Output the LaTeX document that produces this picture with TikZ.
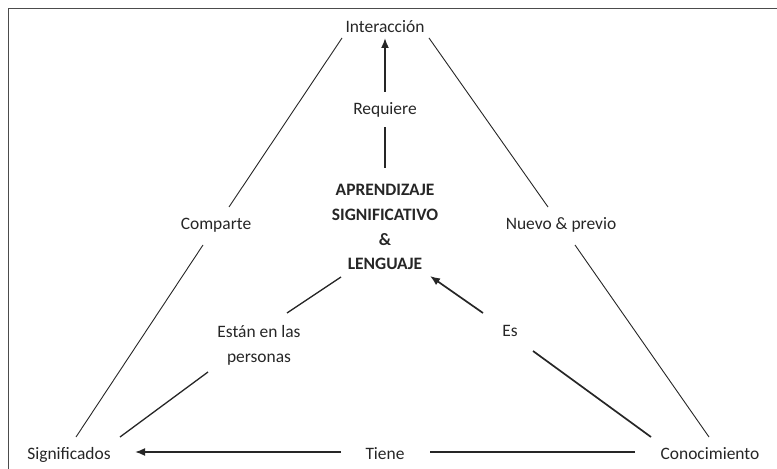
\documentclass[tikz,border=0pt]{standalone}
\usepackage{fontspec}
\setmainfont{Carlito}
\usetikzlibrary{arrows.meta,calc}
\begin{document}
\begin{tikzpicture}[x=1bp,y=-1bp,
  lbl/.style={inner sep=0pt,anchor=base,text=black!85,font=\fontsize{17.5}{25}\selectfont},
  thin/.style={line width=0.9bp,draw=black!85},
  mid/.style={line width=1.3bp,draw=black!85},
  thick/.style={line width=1.7bp,draw=black!85},
  arr/.style={-{Latex[length=10bp,width=8bp]}}]
\useasboundingbox (0,0) rectangle (777,469);
\draw[line width=1.6bp,draw=black!70] (8.5,469) -- (8.5,8.5) -- (777,8.5);

\node[lbl] (inter) at (385,33) {Interacción};
\node[lbl] (req) at (385,114.5) {Requiere};
\node[lbl] (comp) at (216,229.5) {Comparte};
\node[lbl] (nuevo) at (561,230) {Nuevo \& previo};
\node[lbl] (es) at (510,336.5) {Es};
\node[lbl] (sig) at (69,459.5) {Significados};
\node[lbl] (tiene) at (385,459.5) {Tiene};
\node[lbl] (cono) at (710,459.5) {Conocimiento};
\node[inner sep=0pt,align=center,text=black!85,font=\fontsize{17.5}{25}\selectfont\bfseries] (blk) at (385,227)
  {APRENDIZAJE\\SIGNIFICATIVO\\\&\\LENGUAJE};
\node[inner sep=0pt,align=center,text=black!85,font=\fontsize{17.5}{25}\selectfont] (estan) at (259,345)
  {Están en las\\personas};

% Requiere -> Interaccion
\draw[thick,arr] ($(req.base)+(0,-22.5)$) -- ($(inter.base)+(0,5)$);
\draw[thick] ($(blk)+(0,-59)$) -- ($(req.base)+(0,12.5)$);

% Interaccion - Comparte - Significados
\draw[thin] ($(inter.base)+(-43,5)$) -- ($(comp.base)+(13,-22.5)$);
\draw[thin] ($(comp.base)+(-13,15.5)$) -- ($(sig.base)+(7,-22.5)$);

% Interaccion - Nuevo & previo - Conocimiento
\draw[thin] ($(inter.base)+(44,5)$) -- ($(nuevo.base)+(-13,-23)$);
\draw[thin] ($(nuevo.base)+(14,15)$) -- ($(cono.base)+(-1,-22.5)$);

% Aprendizaje - Estan en las personas - Significados
\draw[mid] ($(blk)+(-44,50)$) -- ($(estan)+(28,-32)$);
\draw[mid] ($(estan)+(-51,27)$) -- ($(sig.base)+(51,-22.5)$);

% Conocimiento - Es -> Aprendizaje
\draw[thick] ($(cono.base)+(-59,-22.5)$) -- ($(es.base)+(23,14.5)$);
\draw[thick,arr] ($(es.base)+(-27,-23.5)$) -- ($(blk)+(45,49)$);

% Conocimiento - Tiene -> Significados
\draw[thick] ($(cono.base)+(-75,-7.5)$) -- ($(tiene.base)+(45,-7.5)$);
\draw[thick,arr] ($(tiene.base)+(-44,-7.5)$) -- ($(sig.base)+(66,-7.5)$);
\end{tikzpicture}
\end{document}
